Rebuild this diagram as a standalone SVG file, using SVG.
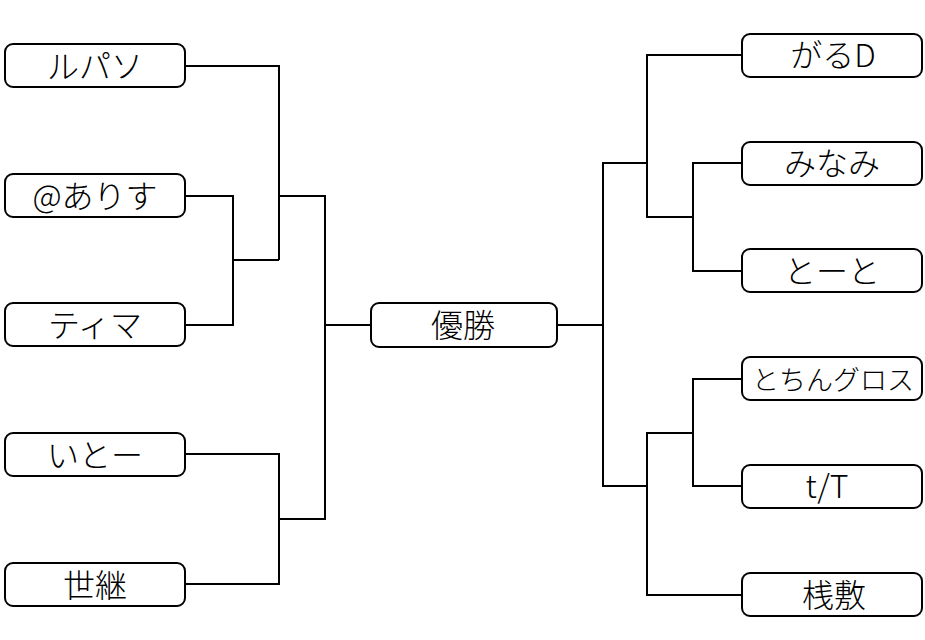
<svg xmlns="http://www.w3.org/2000/svg" width="925" height="640" viewBox="0 0 925 640">
<style>
.box{fill:#fff;stroke:#000;stroke-width:2}
.lbl{font-family:"Noto Sans CJK JP","Noto Sans",sans-serif;font-size:32px;font-weight:300;fill:#000;text-anchor:middle}
.ln{fill:none;stroke:#000;stroke-width:2}
</style>
<rect width="925" height="640" fill="#fff"/>
<g id="connectors">
<polyline class="ln" points="185,66 279,66 279,260"/>
<polyline class="ln" points="185,196 233,196 233,325 185,325"/>
<line class="ln" x1="233" y1="260" x2="279" y2="260"/>
<polyline class="ln" points="279,196 325,196 325,519 279,519"/>
<polyline class="ln" points="185,454 279,454 279,584 185,584"/>
<line class="ln" x1="325" y1="325" x2="371" y2="325"/>
<line class="ln" x1="557" y1="325" x2="603" y2="325"/>
<polyline class="ln" points="647,163 603,163 603,486 647,486"/>
<polyline class="ln" points="742,55 647,55 647,217 693,217"/>
<polyline class="ln" points="742,163 693,163 693,271 742,271"/>
<polyline class="ln" points="742,379 693,379 693,486 742,486"/>
<polyline class="ln" points="693,433 647,433 647,595 742,595"/>
</g>
<g id="n-rupaso"><rect class="box" x="5" y="44" width="180" height="43" rx="8"/><text class="lbl" x="95" y="78">ルパソ</text></g>
<g id="n-arisu"><rect class="box" x="5" y="174" width="180" height="43" rx="8"/><text class="lbl" x="95" y="208">@ありす</text></g>
<g id="n-tima"><rect class="box" x="5" y="303" width="180" height="43" rx="8"/><text class="lbl" x="95" y="337">ティマ</text></g>
<g id="n-ito"><rect class="box" x="5" y="433" width="180" height="43" rx="8"/><text class="lbl" x="95" y="467">いとー</text></g>
<g id="n-yotsugi"><rect class="box" x="5" y="563" width="180" height="43" rx="8"/><text class="lbl" x="95" y="597">世継</text></g>
<g id="n-winner"><rect class="box" x="371" y="303" width="186" height="44" rx="8"/><text class="lbl" x="463" y="337">優勝</text></g>
<g id="n-garud"><rect class="box" x="742" y="34" width="180" height="43" rx="8"/><text class="lbl" x="833" y="67">がるD</text></g>
<g id="n-minami"><rect class="box" x="742" y="142" width="180" height="43" rx="8"/><text class="lbl" x="832" y="175">みなみ</text></g>
<g id="n-toto"><rect class="box" x="742" y="249" width="180" height="43" rx="8"/><text class="lbl" x="832" y="283">とーと</text></g>
<g id="n-tochin"><rect class="box" x="742" y="357" width="180" height="43" rx="8"/><text class="lbl" x="833" y="390" style="font-size:27px">とちんグロス</text></g>
<g id="n-tT"><rect class="box" x="742" y="465" width="180" height="43" rx="8"/><text class="lbl" x="827" y="498">t/T</text></g>
<g id="n-sajiki"><rect class="box" x="742" y="573" width="180" height="43" rx="8"/><text class="lbl" x="834" y="607">桟敷</text></g>
</svg>
